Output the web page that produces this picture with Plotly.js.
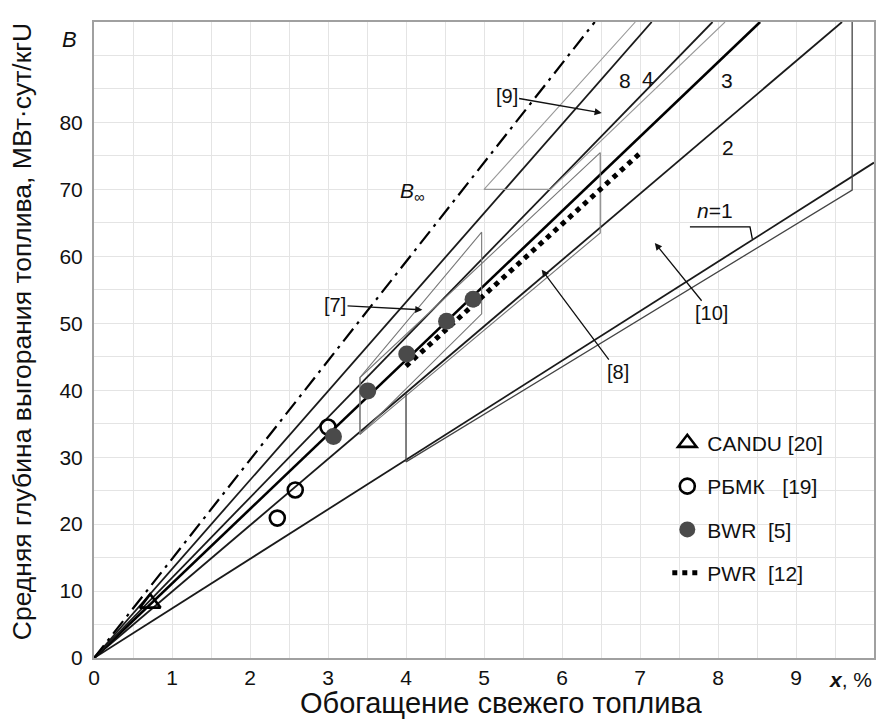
<!DOCTYPE html>
<html>
<head>
<meta charset="utf-8">
<script src="https://cdn.plot.ly/plotly-3.0.1.min.js"></script>
<style>html,body{margin:0;padding:0;background:#fff;}#chart{width:877px;height:724px;}</style>
</head>
<body>
<div id="chart"></div>
<script>
// ---- data ----
// straight burn-up lines from the origin: B_n for n = 1,2,3,4,8 and B_inf
const lineNames = ['n=1', 'n=2', 'n=3', 'n=4', 'n=8', 'B∞'];
const lineEndX  = [10.0, 9.59, 8.54, 7.93, 7.15, 6.42];
const lineEndY  = [74.0, 95, 95, 95, 95, 95];

// reference regions (thin outlines)
const ref7X  = [3.41, 3.41, 4.97, 4.97, 3.41];
const ref7Y  = [33.4, 41.9, 63.6, 51.4, 33.4];
const ref8X  = [3.41, 3.41, 6.49, 6.49, 3.41];
const ref8Y  = [33.4, 41.9, 75.5, 63.5, 33.4];
const ref9X  = [6.94, 5.00, 5.85, 8.09];
const ref9Y  = [95, 70.0, 70.0, 95];
const ref10X = [4.00, 4.00, 9.72, 9.72];
const ref10Y = [39.6, 29.3, 69.9, 95];

// reactor data
const canduX = [0.72];
const canduY = [8.2];
const rbmkX  = [2.35, 2.58, 3.00];
const rbmkY  = [20.9, 25.1, 34.5];
const bwrX   = [3.07, 3.51, 4.01, 4.52, 4.86];
const bwrY   = [33.1, 39.9, 45.4, 50.3, 53.6];
const pwrX   = [4.00, 7.00];
const pwrY   = [43.6, 75.4];

// tick labels
const xTicks = [0, 1, 2, 3, 4, 5, 6, 7, 8, 9];
const yTicks = [0, 10, 20, 30, 40, 50, 60, 70, 80];

// in-plot labels
const curveLabelText = ['8', '4', '3', '2', '<i>B</i><sub>∞</sub>', '<i>n</i>=1'];
const curveLabelX    = [6.81, 7.10, 8.12, 8.13, 4.08, 7.96];
const curveLabelY    = [86.3, 86.5, 86.2, 76.2, 69.6, 66.8];

const refLabelText = ['[9]', '[7]', '[10]', '[8]'];
const refLabelX    = [5.29, 3.09, 7.92, 6.72];
const refLabelY    = [83.9, 52.7, 51.5, 42.7];
const refArrowX    = [6.51, 4.21, 7.19, 5.74];
const refArrowY    = [81.4, 52.0, 62.0, 58.0];

// leader under "n=1"
const leaderX = [7.64, 8.41, 8.44];
const leaderY = [64.4, 64.4, 62.6];

const FONT = 'Liberation Sans, Arial, sans-serif';

const traces = [];
const lineStyles = [
  {color: '#1a1a1a', width: 1.8},
  {color: '#1a1a1a', width: 1.8},
  {color: '#000000', width: 2.6},
  {color: '#1a1a1a', width: 1.8},
  {color: '#1a1a1a', width: 1.8},
  {color: '#000000', width: 2.2, dash: '16px,6px,3px,6px'}
];
lineNames.forEach((nm, i) => {
  traces.push({x: [0, lineEndX[i]], y: [0, lineEndY[i]], mode: 'lines', name: nm,
    line: lineStyles[i], showlegend: false, hoverinfo: 'skip'});
});

function outline(xs, ys, color, w) {
  traces.push({x: xs, y: ys, mode: 'lines', line: {color: color, width: w},
    showlegend: false, hoverinfo: 'skip'});
}
outline(ref7X, ref7Y, '#777777', 1.1);
outline(ref8X, ref8Y, '#777777', 1.1);
outline(ref9X, ref9Y, '#999999', 1.1);
outline(ref10X, ref10Y, '#444444', 1.3);
outline(leaderX, leaderY, '#000000', 1.3);

traces.push({x: canduX, y: canduY, mode: 'markers', name: 'CANDU [20]', legendgroup: 'g1', legendrank: 1,
  marker: {symbol: 'triangle-up-open', size: 18, color: '#000', line: {width: 2.6}}});
traces.push({x: rbmkX, y: rbmkY, mode: 'markers', name: 'РБМК\u00a0\u00a0\u00a0[19]', legendgroup: 'g2', legendrank: 2,
  marker: {symbol: 'circle-open', size: 15, color: '#000', line: {width: 2.6}}});
traces.push({x: pwrX, y: pwrY, mode: 'lines', name: 'PWR\u00a0\u00a0[12]', legendgroup: 'g4', legendrank: 4,
  line: {color: '#000', width: 5, dash: 'dot'}});
traces.push({x: bwrX, y: bwrY, mode: 'markers', name: 'BWR\u00a0\u00a0[5]', legendgroup: 'g3', legendrank: 3,
  marker: {symbol: 'circle', size: 17, color: '#4a4a4a'}});

const annotations = [];
curveLabelText.forEach((t, i) => {
  annotations.push({x: curveLabelX[i], y: curveLabelY[i], xref: 'x', yref: 'y', text: t,
    showarrow: false, font: {family: FONT, size: 21, color: '#111'}});
});
refLabelText.forEach((t, i) => {
  annotations.push({x: refArrowX[i], y: refArrowY[i], ax: refLabelX[i], ay: refLabelY[i],
    xref: 'x', yref: 'y', axref: 'x', ayref: 'y', text: t, showarrow: true,
    arrowhead: 2, arrowsize: 1.1, arrowwidth: 1.3, arrowcolor: '#111', standoff: 0,
    font: {family: FONT, size: 20, color: '#111'}});
});
annotations.push({xref: 'paper', yref: 'paper', x: -0.031, y: 0.995, xanchor: 'center', yanchor: 'top',
  text: '<i>B</i>', showarrow: false, font: {family: FONT, size: 22, color: '#111'}});
annotations.push({xref: 'paper', yref: 'paper', x: 1.0, y: -0.034, xanchor: 'right', yanchor: 'middle',
  text: '<b><i>x</i></b>, %', showarrow: false, font: {family: FONT, size: 21, color: '#111'}});
// axis titles
annotations.push({xref: 'paper', yref: 'paper', x: 0.522, y: -0.071, xanchor: 'center', yanchor: 'middle',
  text: 'Обогащение свежего топлива', showarrow: false, font: {family: FONT, size: 29, color: '#111'}});
annotations.push({xref: 'paper', yref: 'paper', x: -0.093, y: 0.513, xanchor: 'center', yanchor: 'middle',
  textangle: -90, text: 'Средняя глубина выгорания топлива, МВт·сут/кгU', showarrow: false,
  font: {family: FONT, size: 26.5, color: '#111'}});

const layout = {
  width: 877, height: 724,
  margin: {l: 94, r: 3, t: 22, b: 66},
  paper_bgcolor: '#fff', plot_bgcolor: '#fff',
  font: {family: FONT, size: 21, color: '#111'},
  showlegend: true,
  legend: {x: 0.735, y: 0.37, xanchor: 'left', yanchor: 'top', traceorder: 'grouped',
    tracegroupgap: 13, bgcolor: 'rgba(255,255,255,0)',
    font: {family: FONT, size: 21, color: '#111'}},
  xaxis: {range: [0, 10], tickvals: xTicks, ticktext: xTicks.map(String), showgrid: true,
    gridcolor: '#e4e4e4', gridwidth: 1, zeroline: false, showline: true, mirror: true,
    linecolor: '#a0a0a0', linewidth: 2, ticks: '', ticklabelstandoff: 0,
    minor: {dtick: 0.5, showgrid: true, gridcolor: '#e4e4e4', gridwidth: 1},
    tickfont: {family: FONT, size: 21, color: '#111'}},
  yaxis: {range: [0, 95], tickvals: yTicks, ticktext: yTicks.map(String), showgrid: true,
    gridcolor: '#e4e4e4', gridwidth: 1, zeroline: false, showline: true, mirror: true,
    linecolor: '#a0a0a0', linewidth: 2, ticks: '', ticklabelstandoff: 5,
    minor: {dtick: 5, showgrid: true, gridcolor: '#e4e4e4', gridwidth: 1},
    tickfont: {family: FONT, size: 21, color: '#111'}},
  annotations: annotations
};

Plotly.newPlot('chart', traces, layout, {staticPlot: true, displayModeBar: false});
</script>
</body>
</html>
